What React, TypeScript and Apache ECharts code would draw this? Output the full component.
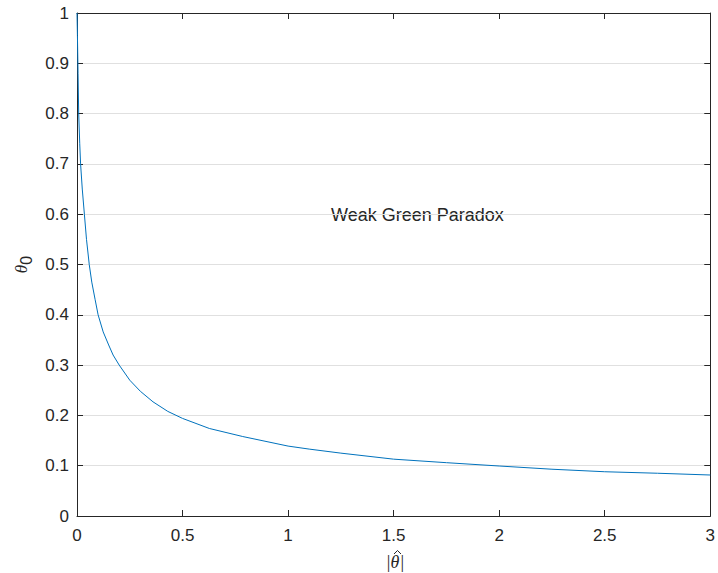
import React, { useEffect, useRef } from "react";
import * as echarts from "echarts";

const thetaHat = [
  0, 0.002, 0.005, 0.008, 0.013, 0.017, 0.025, 0.035, 0.045, 0.058, 0.07, 0.086,
  0.1, 0.124, 0.15, 0.171, 0.2, 0.25, 0.3, 0.36, 0.43, 0.5, 0.627, 0.785, 1.0,
  1.1, 1.25, 1.5, 1.75, 2.0, 2.25, 2.5, 2.75, 3.0,
];
const theta0 = [
  1.0, 0.955, 0.88, 0.8, 0.74, 0.7, 0.65, 0.6, 0.55, 0.5, 0.465, 0.43,
  0.4, 0.366, 0.34, 0.32, 0.3, 0.27, 0.248, 0.227, 0.208, 0.194, 0.174, 0.158, 0.139,
  0.133, 0.125, 0.113, 0.106, 0.0994, 0.093, 0.088, 0.085, 0.0815,
];
const annotation = "Weak Green Paradox";
const xName = "|θ|";

const FONT = "'Liberation Sans', Arial, sans-serif";
const TXT = "#262626";

export default function App() {
  const ref = useRef<HTMLDivElement>(null);
  useEffect(() => {
    if (!ref.current) return;
    const chart = echarts.init(ref.current, null, { renderer: "svg" });
    const axisLine = { show: true, onZero: false, lineStyle: { color: TXT, width: 1 } };
    const tick = { show: true, inside: true, length: 6, lineStyle: { color: TXT } };
    chart.setOption({
      animation: false,
      backgroundColor: "#ffffff",
      grid: { left: 77, right: 5, top: 13, bottom: 57, containLabel: false },
      xAxis: [
        {
          type: "value",
          min: 0,
          max: 3,
          interval: 0.5,
          position: "bottom",
          axisLine,
          axisTick: tick,
          splitLine: { show: false },
          axisLabel: { color: TXT, fontSize: 17, fontFamily: FONT, margin: 11 },
        },
        {
          type: "value",
          min: 0,
          max: 3,
          interval: 0.5,
          position: "top",
          axisLine,
          axisTick: tick,
          splitLine: { show: false },
          axisLabel: { show: false },
        },
      ],
      yAxis: [
        {
          type: "value",
          min: 0,
          max: 1,
          interval: 0.1,
          position: "left",
          axisLine,
          axisTick: tick,
          splitLine: { show: true, lineStyle: { color: "#e0e0e0", width: 1 } },
          axisLabel: { color: TXT, fontSize: 17, fontFamily: FONT, margin: 8 },
          name: "{a|θ}{b|0}",
          nameLocation: "middle",
          nameGap: 43,
          nameTextStyle: {
            color: TXT,
            rich: {
              a: { fontSize: 17, fontFamily: "'Liberation Serif', serif", fontStyle: "italic", color: TXT },
              b: { fontSize: 16, fontFamily: FONT, color: TXT, padding: [10, 0, 0, 0] },
            },
          },
        },
        {
          type: "value",
          min: 0,
          max: 1,
          interval: 0.1,
          position: "right",
          axisLine,
          axisTick: tick,
          splitLine: { show: false },
          axisLabel: { show: false },
        },
      ],
      series: [
        {
          type: "line",
          xAxisIndex: 0,
          yAxisIndex: 0,
          data: thetaHat.map((x, i) => [x, theta0[i]]),
          showSymbol: false,
          symbol: "none",
          lineStyle: { color: "#0072BD", width: 1 },
          clip: true,
        },
      ],
      graphic: [
        {
          type: "text",
          left: 331,
          top: 206,
          style: { text: annotation, fill: TXT, fontSize: 18, fontFamily: FONT },
        },
        {
          type: "text",
          x: 395,
          y: 562,
          style: {
            text: xName,
            fill: TXT,
            fontSize: 18,
            fontFamily: "'Liberation Serif', serif",
            fontStyle: "italic",
            align: "center",
            verticalAlign: "middle",
          },
        },
        {
          type: "polyline",
          shape: { points: [[394, 554], [397.5, 550.5], [401, 554]] },
          style: { stroke: TXT, lineWidth: 1, fill: "none" },
        },
      ],
    });
    return () => chart.dispose();
  }, []);
  return <div ref={ref} style={{ width: 718, height: 573, position: "absolute", left: 0, top: 0 }} />;
}
